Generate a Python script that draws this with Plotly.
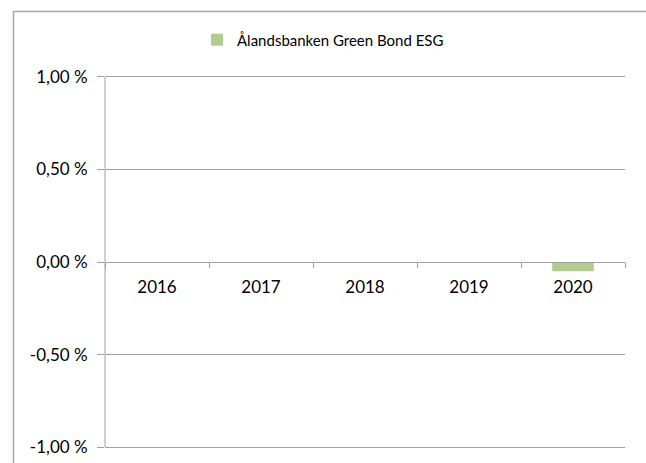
import plotly.graph_objects as go

categories = ["2016", "2017", "2018", "2019", "2020"]
values = [None, None, None, None, -0.05]  # percent
series_name = "Ålandsbanken Green Bond ESG"
y_tickvals = [1.0, 0.5, 0.0, -0.5, -1.0]
y_ticktext = ["1,00 %", "0,50 %", "0,00 %", "-0,50 %", "-1,00 %"]

W, H = 646, 463
L, R, T, B = 105, 21, 75, 14
pw, ph = W - L - R, H - T - B

def px_x(x):
    return (x - L) / pw

def px_y(y):
    return (H - B - y) / ph

fig = go.Figure()
fig.add_trace(go.Bar(
    x=categories, y=values, name=series_name,
    marker=dict(color="#b3cc8e", line=dict(width=0)),
    width=0.4, showlegend=True,
))

grid_col = "#a0a0a0"
font_family = "Lato, 'Open Sans', sans-serif"

fig.update_layout(
    width=W, height=H,
    margin=dict(l=L, r=R, t=T, b=B, pad=0, autoexpand=False),
    paper_bgcolor="white", plot_bgcolor="white",
    font=dict(family=font_family, size=17, color="#000000"),
    showlegend=True,
    legend=dict(
        orientation="h", x=px_x(197), y=px_y(40), xanchor="left", yanchor="middle",
        font=dict(size=15, family=font_family), bgcolor="rgba(0,0,0,0)",
        itemwidth=30,
    ),
    xaxis=dict(
        type="category", anchor="free", position=0.5,
        tickson="boundaries", ticks="outside", ticklen=5, tickcolor=grid_col,
        showline=True, linecolor=grid_col, linewidth=1,
        showgrid=False, zeroline=False, automargin=False,
        tickfont=dict(size=17), ticklabelstandoff=10,
    ),
    yaxis=dict(
        range=[-1.01, 1.01], tickvals=y_tickvals, ticktext=y_ticktext,
        showgrid=True, gridcolor=grid_col, gridwidth=1,
        showline=False, automargin=False,
        ticks="outside", ticklen=7, tickcolor=grid_col,
        zeroline=False, tickfont=dict(size=17), ticklabelstandoff=6,
    ),
    shapes=[
        dict(
            type="rect", xref="paper", yref="paper",
            x0=px_x(13.5), x1=px_x(700), y0=px_y(500), y1=px_y(11.5),
            line=dict(color="#a6a6a6", width=1.5), fillcolor="rgba(0,0,0,0)", layer="below",
        ),
        dict(
            type="line", xref="paper", yref="y",
            x0=0, x1=0, y0=y_tickvals[-1], y1=y_tickvals[0],
            line=dict(color=grid_col, width=1), layer="below",
        ),
    ],
)

fig.write_html("out.html")
